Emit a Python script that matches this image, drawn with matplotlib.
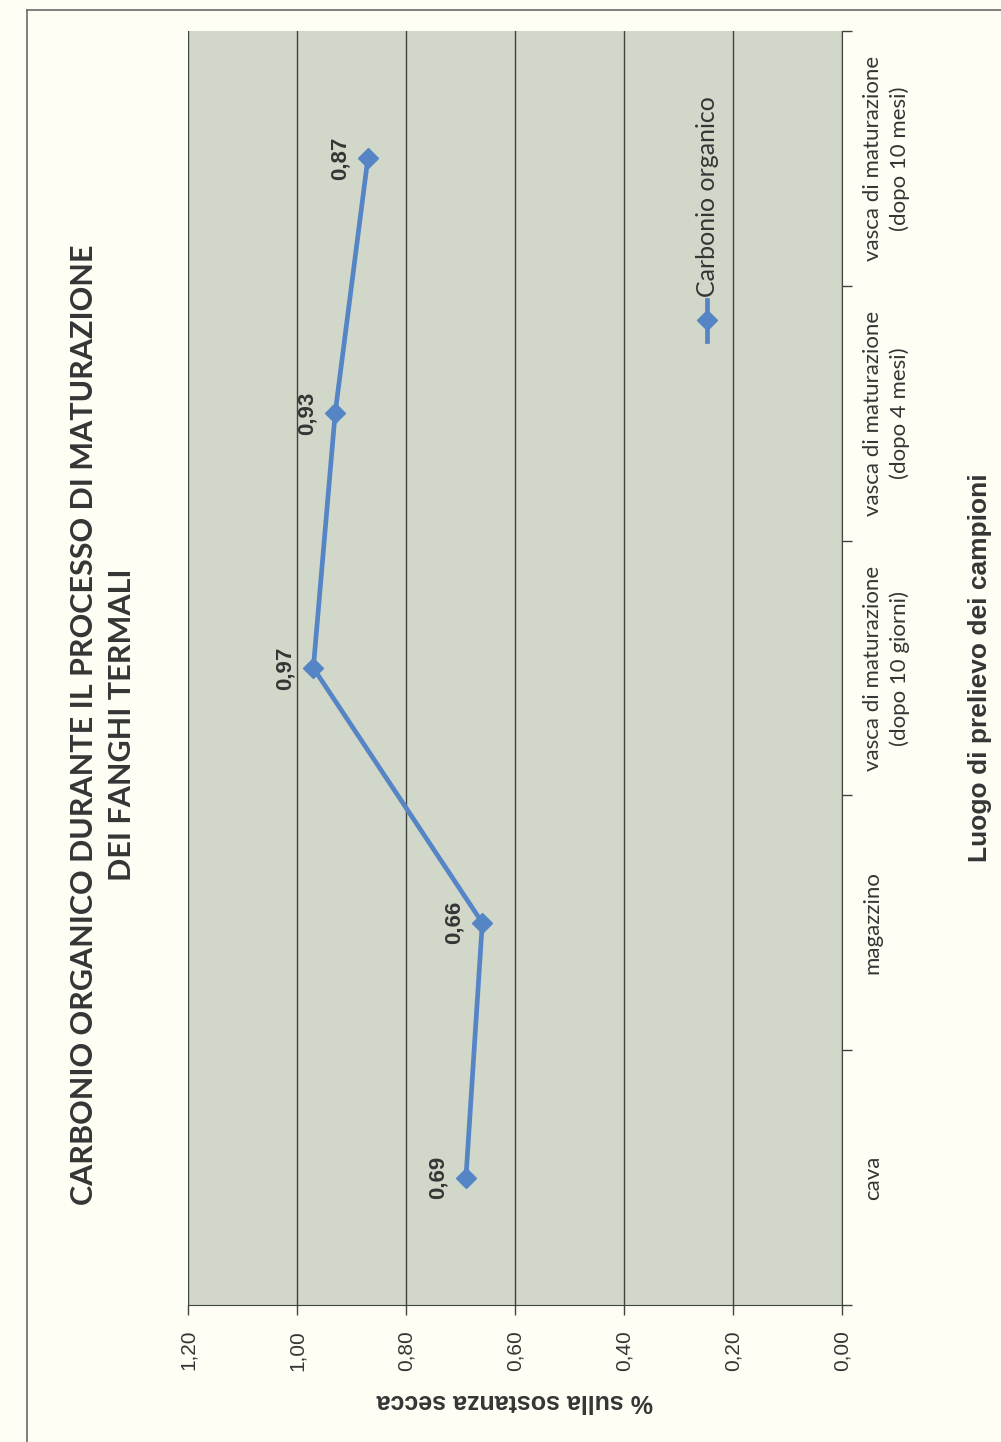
import numpy as np
import matplotlib
matplotlib.use("Agg")
import matplotlib.pyplot as plt
from matplotlib.lines import Line2D
from matplotlib.ticker import FuncFormatter

# campioni e valori di carbonio organico (% sulla sostanza secca)
categorie = ["cava", "magazzino",
             "vasca di maturazione\n(dopo 10 giorni)",
             "vasca di maturazione\n(dopo 4 mesi)",
             "vasca di maturazione\n(dopo 10 mesi)"]
carbonio = [0.69, 0.66, 0.97, 0.93, 0.87]
valori_asse = [0.0, 0.2, 0.4, 0.6, 0.8, 1.0, 1.2]

titolo = "CARBONIO ORGANICO DURANTE IL PROCESSO DI MATURAZIONE\nDEI FANGHI TERMALI"
serie = "Carbonio organico"
etichetta_valori = "% sulla sostanza secca"
etichetta_luoghi = "Luogo di prelievo dei campioni"

blu = "#5685c6"
carta = "#fefef5"
fondo = "#d1d8ca"
griglia = "#3f443f"
testo = "#353535"


def virgola(v, pos=None):
    return f"{v:.2f}".replace(".", ",")


def main():
    fig = plt.figure(figsize=(10.01, 14.42), dpi=100, facecolor=carta)
    ax = fig.add_axes([188 / 1001, 1 - 1305 / 1442, 654 / 1001, 1274 / 1442])
    ax.set_facecolor(fondo)

    pos = np.arange(len(categorie))

    # il grafico e' ruotato: valori in orizzontale (invertiti), luoghi in verticale
    ax.set_xlim(1.2, 0.0)
    ax.set_ylim(-0.5, len(categorie) - 0.5)

    ax.set_xticks(valori_asse)
    ax.xaxis.set_major_formatter(FuncFormatter(virgola))
    ax.tick_params(axis="x", direction="out", length=7, width=1, color=griglia,
                   pad=11, labelsize=15, labelcolor=testo, labelrotation=90)
    for lab in ax.get_xticklabels():
        lab.set_fontfamily("Liberation Sans")
    ax.grid(axis="x", color=griglia, linewidth=1)

    ax.yaxis.tick_right()
    ax.yaxis.set_label_position("right")
    ax.set_yticks(np.arange(-0.5, len(categorie)))
    ax.set_yticklabels([])
    ax.set_yticks(pos, minor=True)
    ax.set_yticklabels(categorie, minor=True, rotation=90, va="center",
                       ha="left", multialignment="center",
                       fontfamily="Lato", fontsize=16, color=testo,
                       linespacing=1.4)
    ax.tick_params(axis="y", which="major", direction="out", length=7,
                   width=1, color=griglia)
    ax.tick_params(axis="y", which="minor", length=0, pad=15)

    for lato in ["top", "left"]:
        ax.spines[lato].set_visible(False)
    ax.spines["bottom"].set_color(griglia)
    ax.spines["right"].set_color(griglia)

    ax.plot(carbonio, pos, color=blu, linewidth=3.4, marker="D",
            markersize=10, markeredgecolor=blu, zorder=3)

    for v, p in zip(carbonio, pos):
        ax.annotate(virgola(v), (v, p), xytext=(-28, 0),
                    textcoords="offset pixels", rotation=90, ha="center",
                    va="center", fontsize=16, fontweight="bold",
                    fontfamily="Liberation Sans", color=testo)

    # legenda della serie
    ax.plot([0.793, 0.793], [0.757, 0.789], transform=ax.transAxes,
            color=blu, linewidth=3.4, clip_on=False)
    ax.plot([0.793], [0.773], transform=ax.transAxes, color=blu, marker="D",
            markersize=10, clip_on=False)
    ax.text(0.794, 0.791, serie, transform=ax.transAxes, rotation=90,
            ha="center", va="bottom", fontsize=18, fontfamily="Lato",
            color=testo)

    ax.set_xlabel(etichetta_valori, rotation=180, fontsize=18,
                  fontweight="bold", fontfamily="Liberation Sans",
                  color=testo, labelpad=13)
    ax.set_ylabel(etichetta_luoghi, rotation=90, fontsize=19,
                  fontweight="bold", fontfamily="Liberation Sans",
                  color=testo, labelpad=42)

    fig.text(103 / 1001, 1 - 725 / 1442, titolo, rotation=90, ha="center",
             va="center", multialignment="center", fontsize=22,
             fontweight="bold", fontfamily="Lato", color=testo,
             linespacing=1.45)

    # cornice della pagina
    fig.add_artist(Line2D([27 / 1001, 27 / 1001], [0, 1 - 10 / 1442],
                          color="#6a6a6a", linewidth=1.2))
    fig.add_artist(Line2D([27 / 1001, 1], [1 - 10 / 1442, 1 - 10 / 1442],
                          color="#6a6a6a", linewidth=1.2))

    fig.savefig("out.png", dpi=100, facecolor=carta)


if __name__ == "__main__":
    main()
